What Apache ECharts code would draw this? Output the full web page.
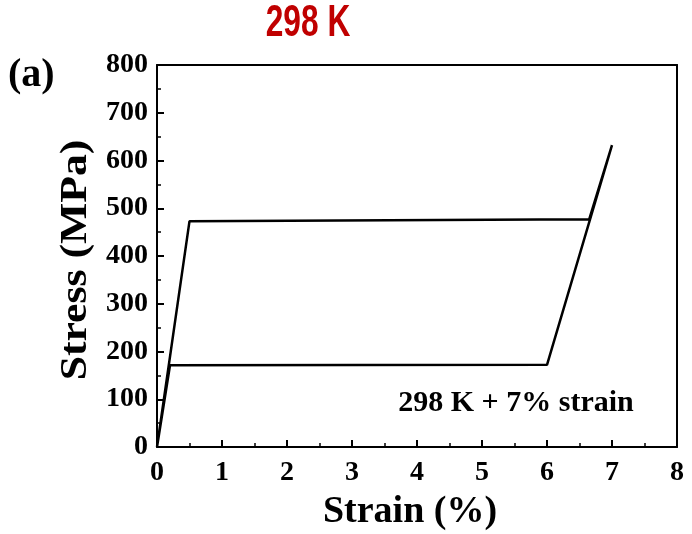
<!DOCTYPE html>
<html>
<head>
<meta charset="utf-8">
<script src="https://cdn.jsdelivr.net/npm/echarts@6/dist/echarts.min.js"></script>
<style>
  html, body { margin: 0; padding: 0; background: #fff; }
  #chart { width: 692px; height: 534px; }
</style>
</head>
<body>
<div id="chart"></div>
<script>
// stress-strain loop, strain (%) vs stress (MPa)
const strain = [0, 0.5, 6.65, 7.0, 6.0, 0.2, 0];
const stress = [0, 473, 477, 632, 172, 171, 0];
const xTicks = [0, 1, 2, 3, 4, 5, 6, 7, 8];
const yTicks = [0, 100, 200, 300, 400, 500, 600, 700, 800];

const serif = '"Liberation Serif", "Times New Roman", serif';

var myChart = echarts.init(document.getElementById('chart'));

const loop = strain.map((x, i) => [x, stress[i]]);

myChart.setOption({
    animation: false,
    grid: { left: 157, top: 65, width: 520, height: 382 },
    xAxis: [{
        type: 'value',
        min: 0, max: 8, interval: 1,
        axisLine: { lineStyle: { color: '#000', width: 2 } },
        axisTick: { inside: true, length: 7, lineStyle: { color: '#000', width: 2 } },
        minorTick: { show: true, splitNumber: 2, length: 4, lineStyle: { color: '#000', width: 1.5 } },
        axisLabel: {
            margin: 12, fontFamily: serif, fontWeight: 'bold', fontSize: 28, color: '#000',
            formatter: v => xTicks.includes(v) ? String(v) : ''
        },
        splitLine: { show: false },
    }, {
        type: 'value', position: 'top',
        min: 0, max: 8, interval: 1,
        axisLine: { onZero: false, lineStyle: { color: '#000', width: 2 } },
        axisTick: { show: false },
        axisLabel: { show: false },
        splitLine: { show: false },
    }],
    yAxis: [{
        type: 'value',
        min: 0, max: 800, interval: 100,
        axisLine: { show: true, lineStyle: { color: '#000', width: 2 } },
        axisTick: { show: true, inside: true, length: 7, lineStyle: { color: '#000', width: 2 } },
        minorTick: { show: true, splitNumber: 2, length: 4, lineStyle: { color: '#000', width: 1.5 } },
        axisLabel: {
            margin: 9, fontFamily: serif, fontWeight: 'bold', fontSize: 28, color: '#000',
            formatter: v => yTicks.includes(v) ? String(v) : ''
        },
        splitLine: { show: false },
    }, {
        type: 'value', position: 'right',
        min: 0, max: 800, interval: 100,
        axisLine: { show: true, onZero: false, lineStyle: { color: '#000', width: 2 } },
        axisTick: { show: false },
        axisLabel: { show: false },
        splitLine: { show: false },
    }],
    graphic: [{
        // title, condensed bold sans
        type: 'text',
        x: 308, y: 24, scaleX: 0.72,
        style: {
            text: '298 K', font: 'bold 44px "Liberation Sans", Arial, sans-serif', fill: '#c00000',
            align: 'center', verticalAlign: 'middle'
        }
    }, {
        type: 'text',
        x: 8, y: 76,
        style: { text: '(a)', font: 'bold 40px ' + serif, fill: '#000', verticalAlign: 'middle' }
    }, {
        type: 'text',
        x: 516, y: 403,
        style: { text: '298 K + 7% strain', font: 'bold 30px ' + serif, fill: '#000', align: 'center', verticalAlign: 'middle' }
    }, {
        type: 'text',
        x: 410, y: 512,
        style: { text: 'Strain (%)', font: 'bold 38px ' + serif, fill: '#000', align: 'center', verticalAlign: 'middle' }
    }, {
        type: 'text',
        x: 76, y: 260, rotation: Math.PI / 2, scaleX: 1.15,
        style: { text: 'Stress (MPa)', font: 'bold 38px ' + serif, fill: '#000', align: 'center', verticalAlign: 'middle' }
    }],
    series: [{
        type: 'line',
        data: loop,
        showSymbol: false,
        lineStyle: { color: '#000', width: 2.5 },
    }],
});
</script>
</body>
</html>
